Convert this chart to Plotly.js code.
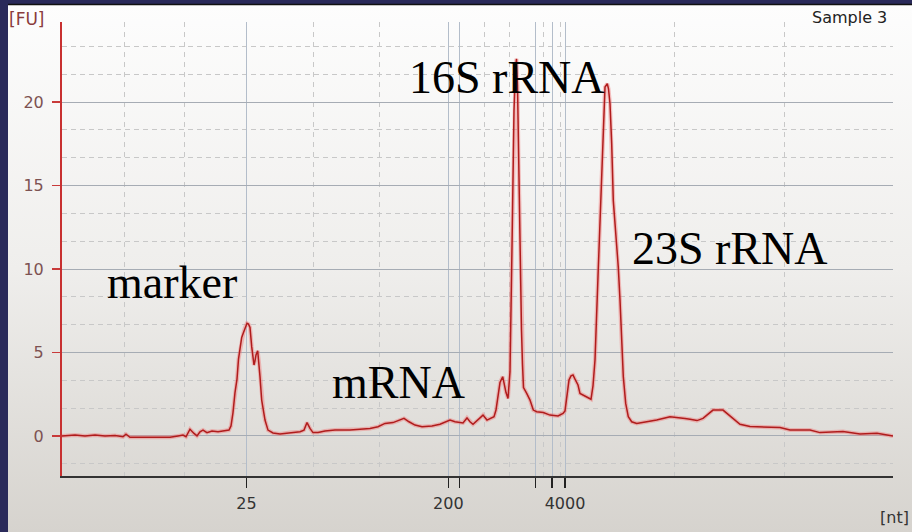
<!DOCTYPE html>
<html>
<head>
<meta charset="utf-8">
<script src="https://cdn.plot.ly/plotly-3.0.1.min.js"></script>
<style>
html,body{margin:0;padding:0;background:#2a2a5a;}
#chart{width:912px;height:532px;}
</style>
</head>
<body>
<div id="chart"></div>
<script>
// Migration position (arbitrary units along the electropherogram) and fluorescence [FU]
var position = [0,13,23,33,43,53,61,64,68,88,108,116,121,124,128,132,135,138,141,145,150,156,162,167,169,171,173,175,176.5,178,179.7,181.5,183,185,186.5,188,189.7,191,192,193,194,195.7,197,198,199.7,201.5,203,206,211,218,228,238,242,245,248,251,256,263,273,288,298,308,316,323,331,336,342,347,353,360,370,378,384,388,393,398,401,405,408,411,416,421,425,429,432,434,436,438,440.7,442,444,446,448,450,452,453.5,454.5,455.5,456.5,457.5,458.5,459.5,460.5,461.5,464.7,468,471.3,474.7,481.3,488,496,501,503,505,507,509,511,513,516,518,523,529,531,533,536,538,539.7,541.3,543,545.3,546.5,548,549.7,551.3,554,556.3,558,559.7,561.3,563.7,566.3,569.7,574.7,584.7,594.7,608,615,623,628,635,641,646,651,661,665,670,678,688,705,718,728,748,758,781,798,815,831];
var fluorescence = [0.0,0.05,0.0,0.05,0.0,0.03,-0.05,0.1,-0.08,-0.1,-0.08,0.0,0.05,-0.05,0.4,0.15,0.0,0.25,0.35,0.2,0.3,0.25,0.3,0.35,0.6,1.4,2.6,3.4,4.6,5.1,5.9,6.2,6.5,6.75,6.7,6.5,5.35,4.6,4.25,4.5,4.85,5.1,4.4,3.55,2.15,1.4,0.95,0.35,0.18,0.12,0.2,0.25,0.35,0.8,0.45,0.2,0.2,0.3,0.35,0.35,0.4,0.45,0.55,0.75,0.8,0.9,1.05,0.85,0.65,0.55,0.6,0.7,0.85,0.95,0.85,0.8,0.78,1.08,0.85,0.7,0.95,1.25,0.95,1.05,1.15,1.55,2.4,3.2,3.55,3.1,2.6,2.25,3.85,11.3,19.5,22.0,22.6,21.0,16.5,13.5,10.2,6.35,4.3,2.9,2.55,2.15,1.55,1.45,1.4,1.25,1.2,1.35,1.5,2.55,3.35,3.6,3.65,3.4,3.05,2.55,2.4,2.2,3.0,4.55,9.55,12.9,16.5,18.9,20.9,21.1,20.8,19.9,17.5,14.1,12.1,10.1,8.15,5.55,3.55,1.95,1.15,0.85,0.75,0.85,0.95,1.15,1.12,1.05,1.0,0.92,1.05,1.3,1.55,1.55,1.35,1.1,0.7,0.56,0.52,0.5,0.36,0.36,0.2,0.26,0.12,0.16,0.0];

// Ladder positions (size standard) and their labels
var ladderPos = [184.5,386.3,397.3,473.7,490,503];
var ladderText = ['25','200','','','','4000'];
// Dashed time grid positions
var timeGrid = [62,122,251,317,422,447,481,498,612,722,831];
// Y ticks
var fuTicks = [0,5,10,15,20];

// peak labels
var peakLabels = ['16S rRNA','23S rRNA','marker','mRNA'];

// plot area in pixels: left 62, right 893, top 22, bottom 476
function px(x){return (x-62)/831;}
function py(y){return (476-y)/454;}

var grad = 'data:image/svg+xml;charset=utf-8,' + encodeURIComponent(
 '<svg xmlns="http://www.w3.org/2000/svg" width="100" height="100" preserveAspectRatio="none">' +
 '<defs><linearGradient id="g" x1="0" y1="0" x2="0" y2="1">' +
 '<stop offset="0" stop-color="#fdfdfd"/><stop offset="0.5" stop-color="#efeeec"/><stop offset="1" stop-color="#d6d3ce"/>' +
 '</linearGradient></defs><rect width="100" height="100" fill="url(#g)"/></svg>');

var halo = {
  x: position, y: fluorescence, type: 'scatter', mode: 'lines',
  line: {color: 'rgba(240,120,120,0.45)', width: 4}, hoverinfo: 'skip', showlegend: false
};
var trace = {
  x: position, y: fluorescence, type: 'scatter', mode: 'lines',
  line: {color: '#b01c1c', width: 1.5}, hoverinfo: 'skip', showlegend: false
};

var layout = {
  width: 912, height: 532,
  margin: {l: 62, r: 19, t: 22, b: 56},
  paper_bgcolor: '#2a2a5a',
  plot_bgcolor: 'rgba(0,0,0,0)',
  font: {family: 'DejaVu Sans', size: 16, color: '#333'},
  showlegend: false,
  images: [{
    source: grad, xref: 'paper', yref: 'paper',
    x: px(8), y: py(5), sizex: (912-8)/831, sizey: (532-5)/454,
    xanchor: 'left', yanchor: 'top', sizing: 'stretch', layer: 'below'
  }],
  shapes: [{
    type: 'line', xref: 'paper', yref: 'paper',
    x0: px(8), x1: px(912), y0: py(4.5), y1: py(4.5),
    line: {color: '#111', width: 1.5}, layer: 'below'
  }],
  xaxis: {
    range: [0, 831], fixedrange: true,
    tickmode: 'array', tickvals: ladderPos, ticktext: ladderText,
    ticks: 'outside', ticklen: 10, tickwidth: 1.5, tickcolor: '#222',
    ticklabelstandoff: 2,
    tickfont: {family: 'DejaVu Sans', size: 16, color: '#333'},
    showgrid: true, gridcolor: '#b3bdca', gridwidth: 1,
    minor: {tickmode: 'array', tickvals: timeGrid, showgrid: true, gridcolor: '#c8c8c8', griddash: '5px,5px', gridwidth: 1, ticks: ''},
    showline: true, linecolor: '#333', linewidth: 2,
    zeroline: false
  },
  yaxis: {
    range: [-2.4, 24.8], fixedrange: true,
    tickmode: 'array', tickvals: fuTicks,
    ticks: 'outside', ticklen: 8, tickwidth: 1.5, tickcolor: '#c83a3a',
    ticklabelstandoff: 5,
    tickfont: {family: 'DejaVu Sans', size: 16, color: '#7d5252'},
    showgrid: true, gridcolor: '#a6acb4', gridwidth: 1,
    minor: {tick0: 0, dtick: 5/3, showgrid: true, gridcolor: '#c8c8c8', griddash: '5px,4px', gridwidth: 1, ticks: ''},
    showline: true, linecolor: '#c83030', linewidth: 2,
    zeroline: false
  },
  annotations: [
    {text: peakLabels[0], xref: 'paper', yref: 'paper', x: px(507), y: py(78), showarrow: false, xanchor: 'center', yanchor: 'middle', font: {family: 'Liberation Serif', size: 46, color: '#000'}},
    {text: peakLabels[1], xref: 'paper', yref: 'paper', x: px(730), y: py(248), showarrow: false, xanchor: 'center', yanchor: 'middle', font: {family: 'Liberation Serif', size: 46, color: '#000'}},
    {text: peakLabels[2], xref: 'paper', yref: 'paper', x: px(172), y: py(282), showarrow: false, xanchor: 'center', yanchor: 'middle', font: {family: 'Liberation Serif', size: 46, color: '#000'}},
    {text: peakLabels[3], xref: 'paper', yref: 'paper', x: px(398), y: py(382), showarrow: false, xanchor: 'center', yanchor: 'middle', font: {family: 'Liberation Serif', size: 46, color: '#000'}},
    {text: 'Sample 3', xref: 'paper', yref: 'paper', x: px(889), y: py(17), showarrow: false, xanchor: 'right', yanchor: 'middle', font: {family: 'DejaVu Sans', size: 16, color: '#222'}},
    {text: '[FU]', xref: 'paper', yref: 'paper', x: px(7), y: py(19), showarrow: false, xanchor: 'left', yanchor: 'middle', font: {family: 'DejaVu Sans', size: 17, color: '#8a3c3c'}},
    {text: '[nt]', xref: 'paper', yref: 'paper', x: px(911), y: py(517), showarrow: false, xanchor: 'right', yanchor: 'middle', font: {family: 'DejaVu Sans', size: 16, color: '#333'}}
  ]
};

Plotly.newPlot('chart', [halo, trace], layout, {staticPlot: true, displayModeBar: false});
</script>
</body>
</html>
